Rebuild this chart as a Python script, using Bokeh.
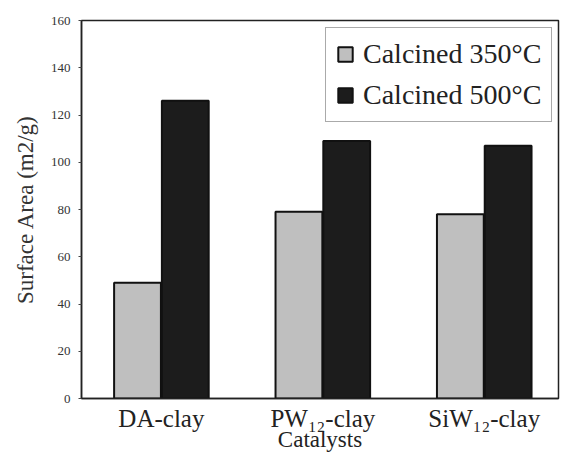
from bokeh.plotting import figure
from bokeh.models import Legend, LegendItem, FixedTicker
from bokeh.embed import file_html
from bokeh.resources import INLINE

catalysts = ["DA-clay", "PW\u2081\u2082-clay", "SiW\u2081\u2082-clay"]
calcined_350 = [49, 79, 78]
calcined_500 = [126, 109, 107]
y_ticks = [0, 20, 40, 60, 80, 100, 120, 140, 160]

serif = "Liberation Serif"
idx = list(range(len(catalysts)))
off = 0.148

p = figure(width=560, height=454, output_backend="svg", toolbar_location=None,
           x_range=(-0.495, 2.46), y_range=(0, 160),
           min_border_left=81, min_border_top=20, min_border_bottom=50, min_border_right=2,
           x_axis_label="Catalysts", y_axis_label="Surface Area (m2/g)")

r1 = p.vbar(x=[i - off for i in idx], top=calcined_350, width=0.29,
            fill_color="#bfbfbf", line_color="#111111", line_width=2)
r2 = p.vbar(x=[i + off for i in idx], top=calcined_500, width=0.29,
            fill_color="#1c1c1c", line_color="#111111", line_width=2)

p.grid.visible = False
p.outline_line_color = "#222222"
p.outline_line_width = 1.5
p.background_fill_color = "white"
p.border_fill_color = "white"

p.xaxis.ticker = FixedTicker(ticks=idx)
p.xaxis.major_label_overrides = {i: c for i, c in zip(idx, catalysts)}
p.xaxis.major_tick_line_color = None
p.xaxis.minor_tick_line_color = None
p.xaxis.major_label_text_font = serif
p.xaxis.major_label_text_font_size = "25px"
p.xaxis.major_label_text_color = "#222222"
p.xaxis.major_label_standoff = 0
p.xaxis.axis_label_text_font = serif
p.xaxis.axis_label_text_font_size = "23px"
p.xaxis.axis_label_text_font_style = "normal"
p.xaxis.axis_label_text_color = "#222222"
p.xaxis.axis_label_standoff = -8
p.xaxis.axis_line_color = "#222222"
p.xaxis.axis_line_width = 1.5

p.yaxis.ticker = FixedTicker(ticks=y_ticks)
p.yaxis.minor_tick_line_color = None
p.yaxis.major_tick_in = 0
p.yaxis.major_tick_out = 3
p.yaxis.major_tick_line_color = "#444444"
p.yaxis.major_label_text_font = serif
p.yaxis.major_label_text_font_size = "13px"
p.yaxis.major_label_text_color = "#333333"
p.yaxis.major_label_standoff = 8
p.yaxis.axis_label_text_font = serif
p.yaxis.axis_label_text_font_size = "23px"
p.yaxis.axis_label_text_font_style = "normal"
p.yaxis.axis_label_text_color = "#333333"
p.yaxis.axis_label_standoff = 10
p.yaxis.axis_line_color = "#222222"
p.yaxis.axis_line_width = 1.5

legend = Legend(items=[LegendItem(label="Calcined 350\u00b0C", renderers=[r1]),
                       LegendItem(label="Calcined 500\u00b0C", renderers=[r2])],
                location=(244, 276))
legend.label_text_font = serif
legend.label_text_font_size = "28px"
legend.label_text_color = "#222222"
legend.glyph_width = 18
legend.glyph_height = 18
legend.spacing = 9
legend.padding = 10
legend.margin = 0
legend.label_standoff = 9
legend.border_line_color = "#555555"
legend.border_line_width = 1
legend.background_fill_alpha = 1
p.add_layout(legend)

open("out.html", "w").write(file_html(p, INLINE))
